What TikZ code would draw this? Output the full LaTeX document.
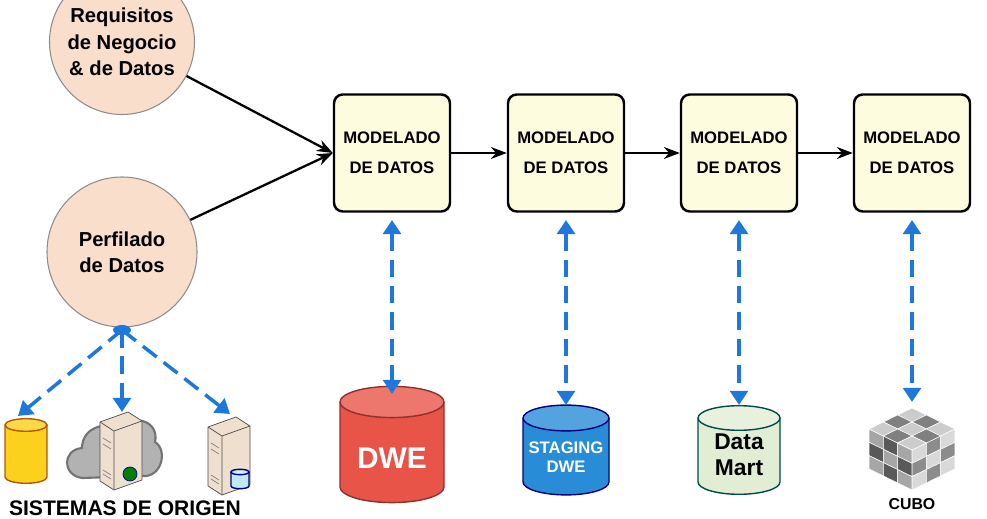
\documentclass[tikz,border=0pt]{standalone}
\usepackage{fontspec}
\setmainfont{Liberation Sans}
\usetikzlibrary{arrows.meta}
\definecolor{peach}{RGB}{250,222,204}
\definecolor{dwered}{RGB}{232,84,72}
\definecolor{stblue}{RGB}{40,140,215}
\definecolor{dmgreen}{RGB}{226,238,212}
\definecolor{arrblue}{RGB}{30,120,220}
\definecolor{boxy}{RGB}{254,252,222}
\newcommand\mycyl[6]{% x center, y top, width, height, fill, draw
  \fill[#5] (#1-#3/2,#2) -- (#1-#3/2,#2+#4) arc[start angle=180,end angle=360,x radius=#3/2,y radius=-#3*0.15] -- (#1+#3/2,#2) arc[start angle=0,end angle=180,x radius=#3/2,y radius=#3*0.15] -- cycle;
  \draw[#6,line width=0.8pt] (#1-#3/2,#2) -- (#1-#3/2,#2+#4) arc[start angle=180,end angle=360,x radius=#3/2,y radius=-#3*0.15] -- (#1+#3/2,#2);
  \draw[#6,line width=0.8pt,fill=#5!80!white] (#1,#2) ellipse[x radius=#3/2,y radius=#3*0.15];
}
\newcommand\myserver[2]{% x,y center
  \fill[brown!25!white,draw=black!70] (#1-20,#2-28) -- (#1+8,#2-38) -- (#1+22,#2-29) -- (#1+22,#2+30) -- (#1-6,#2+40) -- (#1-20,#2+31) -- cycle;
  \draw[black!70] (#1-20,#2-28) -- (#1-6,#2-19) -- (#1+22,#2-29) (#1-6,#2-19) -- (#1-6,#2+40);
  \draw[black!50] (#1-17,#2-12) -- (#1-9,#2-7) (#1-17,#2-6) -- (#1-9,#2-1) (#1-17,#2+20) -- (#1-9,#2+25) (#1-17,#2+24) -- (#1-9,#2+29);
}
\begin{document}
\begin{tikzpicture}[x=0.02cm,y=-0.02cm,
  circ/.style={circle,draw=black!45,fill=peach,line width=0.6pt,minimum size=#1*0.02cm,align=center,font=\bfseries\fontsize{11.5}{15}\selectfont},
  box/.style={draw=black,line width=1.4pt,rounded corners=5pt,fill=boxy,minimum width=116*0.02cm,minimum height=117*0.02cm,align=center,font=\bfseries\fontsize{9.5}{17}\selectfont},
  arr/.style={-{Stealth[length=9pt]},line width=1.3pt},
  darr/.style={{Triangle[length=8pt,width=10pt]}-{Triangle[length=8pt,width=10pt]},dash pattern=on 10pt off 5pt,line width=2pt,draw=arrblue,color=arrblue},
  sarr/.style={-{Triangle[length=8pt,width=10pt]},dash pattern=on 10pt off 5pt,line width=2pt,draw=arrblue,color=arrblue}]
\useasboundingbox (0,0) rectangle (987,519);
\node[circ=145] (req) at (122,42) {Requisitos\\de Negocio\\\& de Datos};
\node[circ=150] (perf) at (122,252) {Perfilado\\de Datos};
\foreach \i/\x in {1/392,2/566,3/739,4/912}
  \node[box] (b\i) at (\x,153) {MODELADO\\DE DATOS};
\draw[arr] (req) -- (b1.west);
\draw[arr] (perf) -- (b1.west);
\draw[arr] (b1) -- (b2);
\draw[arr] (b2) -- (b3);
\draw[arr] (b3) -- (b4);
% cylinders
\mycyl{392}{402}{104}{85}{dwered}{dwered!60!black}
\node[text=white,font=\bfseries\fontsize{17}{17}\selectfont] (dwe) at (392,458) {DWE};
\mycyl{566}{418}{86}{64}{stblue}{blue!50!black}
\node[text=white,font=\bfseries\fontsize{9.5}{11}\selectfont,align=center] (stg) at (566,457) {STAGING\\DWE};
\mycyl{739}{418}{82}{64}{dmgreen}{teal!60!black}
\node[font=\bfseries\fontsize{13}{15}\selectfont,align=center] (dm) at (739,455) {Data\\Mart};
% cube
\coordinate (cubetop) at (912,408);
\foreach \i in {0,1,2} \foreach \j in {0,1,2} {
  \pgfmathsetmacro\g{mod(\i+\j,2)==0 ? 20 : 50}
  \fill[black!\g,draw=white,line width=0.3pt] (912+14.3*\i-14.3*\j,408+7*\i+7*\j) -- ++(14.3,7) -- ++(-14.3,7) -- ++(-14.3,-7) -- cycle;
  \pgfmathsetmacro\gl{mod(\i+\j,2)==0 ? 35 : 65}
  \fill[black!\gl,draw=white,line width=0.3pt] (869+14.3*\i,429+7*\i+13.3*\j) -- ++(14.3,7) -- ++(0,13.3) -- ++(-14.3,-7) -- cycle;
  \pgfmathsetmacro\gr{mod(\i+\j,2)==0 ? 15 : 45}
  \fill[black!\gr,draw=white,line width=0.3pt] (912+14.3*\i,450-7*\i+13.3*\j) -- ++(14.3,-7) -- ++(0,13.3) -- ++(-14.3,7) -- cycle;
}
\node[font=\bfseries\fontsize{9}{9}\selectfont] (cubo) at (912,504) {\textbf{CUBO}};
\draw[darr] (392,220) -- (392,394);
\draw[darr] (566,220) -- (566,405);
\draw[darr] (739,220) -- (739,405);
\draw[darr] (912,220) -- (912,402);
% source systems
\mycyl{26}{425}{42}{52}{yellow!65!orange!90!white}{orange!70!black}
\fill[black!30,draw=black!55,line width=1.2pt] (82,478) .. controls (62,475) and (62,450) .. (82,448) .. controls (82,425) and (112,420) .. (120,432) .. controls (130,412) and (160,420) .. (155,442) .. controls (168,450) and (162,478) .. (142,476) -- cycle;
\myserver{120}{450}
\fill[green!50!black,draw=blue!60!black] (130,474) circle (7);
\myserver{228}{455}
\mycyl{240}{472}{18}{14}{cyan!25!white}{blue!50!black}
\node[font=\bfseries\fontsize{12}{12}\selectfont] (sis) at (125,508) {SISTEMAS DE ORIGEN};
\coordinate (src) at (122,330);
\fill[arrblue] (src) ellipse (9 and 5);
\draw[sarr] (src) -- (18,416);
\draw[sarr] (src) -- (122,412);
\draw[sarr] (src) -- (230,414);
\end{tikzpicture}
\end{document}
